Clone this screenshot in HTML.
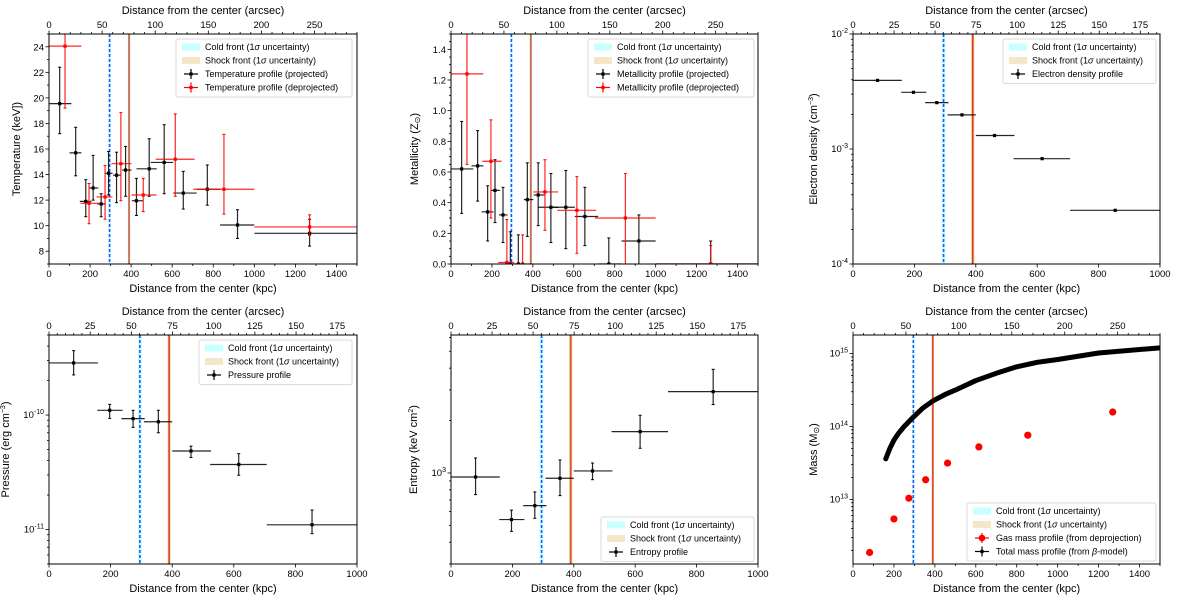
<!DOCTYPE html>
<html><head><meta charset="utf-8">
<style>
body{margin:0;background:#fff;}
svg{display:block;font-family:"Liberation Sans","DejaVu Sans",sans-serif;}
</style></head>
<body>
<svg id="fig" width="1200" height="597" viewBox="0 0 1200 597" xmlns="http://www.w3.org/2000/svg"></svg>
<script>
// ---- Temperature panel data ----
const tProjX=[52,130,179,215,254,290,329,373,426,488,561,654,771,918,1269];
const tProjXlo=[0,100,150,195,235,272,312,356,404,426,495,605,719,833,1000];
const tProjXhi=[109,158,207,240,276,310,349,402,458,525,605,719,833,1000,1500];
const tProjY=[19.55,15.7,11.9,12.95,11.7,14.1,13.95,14.35,11.95,14.45,14.95,12.55,12.85,10.05,9.4];
const tProjYlo=[17.2,13.9,10.7,12.0,10.7,12.4,11.8,12.3,10.8,12.3,12.5,11.3,11.6,9.0,8.4];
const tProjYhi=[22.4,17.7,13.6,15.5,12.5,15.8,15.75,16.2,13.7,16.8,17.9,14.25,14.75,11.25,10.5];
const tDeprX=[78,195,273,350,459,615,852,1269];
const tDeprXlo=[0,153,231,304,402,520,703,1000];
const tDeprXhi=[158,247,309,402,524,709,1000,1500];
const tDeprY=[24.05,11.75,12.25,14.85,12.4,15.2,12.85,9.9];
const tDeprYlo=[19.2,10.15,10.5,11.95,11.1,12.3,10.9,9.25];
const tDeprYhi=[26,13.3,14.7,18.85,13.7,18.75,17.15,10.85];
// ---- Metallicity panel data ----
const zProjX=[52,130,179,215,254,290,329,373,426,488,561,654,771,918,1269];
const zProjXlo=tProjXlo, zProjXhi=tProjXhi;
const zProjY=[0.62,0.64,0.34,0.48,0.32,0.0,0.0,0.42,0.45,0.37,0.37,0.31,0.0,0.15,0.0];
const zProjYlo=[0.33,0.41,0.15,0.27,0.14,0,0,0.18,0.25,0.14,0.10,0.12,0,0,0];
const zProjYhi=[0.93,0.87,0.51,0.68,0.50,0.21,0.19,0.66,0.66,0.59,0.61,0.50,0.17,0.32,0.15];
const zDeprX=[78,195,273,350,459,615,852,1269];
const zDeprXlo=tDeprXlo, zDeprXhi=tDeprXhi;
const zDeprY=[1.24,0.67,0.01,0.0,0.47,0.35,0.30,0.0];
const zDeprYlo=[0.65,0.30,0,0,0.22,0.07,0,0];
const zDeprYhi=[1.6,0.94,0.29,0.19,0.68,0.57,0.59,0.12];
// ---- Deprojected profiles (7 shells) ----
const shellX=[80,197,273,355,461,616,854];
const shellXlo=[0,157,235,308,400,523,707];
const shellXhi=[159,239,311,400,526,707,1000];
const neY=[3.95e-3,3.11e-3,2.53e-3,1.98e-3,1.31e-3,8.24e-4,2.93e-4];
const pY=[2.85e-10,1.1e-10,0.93e-10,0.874e-10,4.85e-11,3.7e-11,1.1e-11];
const pYlo=[2.24e-10,0.935e-10,0.78e-10,0.70e-10,4.26e-11,2.98e-11,0.92e-11];
const pYhi=[3.65e-10,1.24e-10,1.1e-10,1.1e-10,5.35e-11,4.6e-11,1.48e-11];
const kY=[948,540,649,932,1027,1728,2932];
const kYlo=[751,462,549,741,915,1386,2471];
const kYhi=[1219,612,778,1188,1141,2145,3938];
// ---- Mass panel ----
const gasX=[81,200,273,355,462,615,854,1269];
const gasM=[1.87e12,5.4e12,1.04e13,1.86e13,3.15e13,5.25e13,7.6e13,1.58e14];
const totX=[160,180,200,220,250,295,340,390,450,500,600,700,800,900,1000,1200,1500];
const totM=[3.6e13,5.0e13,6.5e13,7.9e13,1.0e14,1.35e14,1.78e14,2.24e14,2.75e14,3.16e14,4.27e14,5.37e14,6.6e14,7.6e14,8.3e14,1.02e15,1.2e15];
// fronts
const coldFront=[295,289,301];
const shockFront=[390,384,396];
</script>
<script>
const NS='http://www.w3.org/2000/svg';
const svg=document.getElementById('fig');
function mk(tag,attrs,parent){const e=document.createElementNS(NS,tag);for(const k in attrs)e.setAttribute(k,attrs[k]);(parent||svg).appendChild(e);return e;}
function txt(x,y,s,size,anchor,parent,rot){const t=mk('text',{x:x,y:y,'font-size':size,'text-anchor':anchor||'middle',fill:'#000'},parent);if(rot)t.setAttribute('transform','rotate(-90 '+x+' '+y+')');t.innerHTML=s;return t;}
let pid=0;
function panel(c){
  pid++;
  const g=mk('g',{});
  
  
  const L=c.L,R=c.R,T=c.T,B=c.B;
  const X=v=>L+v/c.xmax*(R-L);
  const Y=c.ylog?(v=>B-(Math.log10(v)-Math.log10(c.ymin))/(Math.log10(c.ymax)-Math.log10(c.ymin))*(B-T)):(v=>B-(v-c.ymin)/(c.ymax-c.ymin)*(B-T));
  const cp=mk('clipPath',{id:'cp'+pid},g);mk('rect',{x:L,y:T,width:R-L,height:B-T},cp);
  const dg=mk('g',{'clip-path':'url(#cp'+pid+')'},g);
  // fronts
  const cb=mk('rect',{x:X(coldFront[1]),y:T,width:X(coldFront[2])-X(coldFront[1]),height:B-T,fill:'#c8ffff'},dg);
  
  const sb=mk('rect',{x:X(shockFront[1]),y:T,width:X(shockFront[2])-X(shockFront[1]),height:B-T,fill:'#f5e6c8'},dg);
  
  const cl=mk('line',{x1:X(coldFront[0]),x2:X(coldFront[0]),y1:T,y2:B,stroke:'#2255ff','stroke-width':1.6,'stroke-dasharray':'3,2'},dg);
  
  const sl=mk('line',{x1:X(shockFront[0]),x2:X(shockFront[0]),y1:T,y2:B,stroke:c.shockColor||'#d9542c','stroke-width':1.8},dg);
  
  // series
  (c.series||[]).forEach(s=>{
    for(let i=0;i<s.x.length;i++){
      const eg=mk('g',{},dg);
      
      
      const px=X(s.x[i]),py=Y(s.y[i]);
      if(s.xlo){mk('line',{x1:X(s.xlo[i]),x2:X(s.xhi[i]),y1:py,y2:py,stroke:s.col,'stroke-width':1.2,'stroke-opacity':0.85},eg);}
      if(s.ylo){const y1=Y(s.ylo[i]),y2=Y(s.yhi[i]);mk('line',{x1:px,x2:px,y1:y1,y2:y2,stroke:s.col,'stroke-width':1.2,'stroke-opacity':0.85},eg);
        mk('line',{x1:px-1.5,x2:px+1.5,y1:y1,y2:y1,stroke:s.col,'stroke-width':1},eg);mk('line',{x1:px-1.5,x2:px+1.5,y1:y2,y2:y2,stroke:s.col,'stroke-width':1},eg);}
      if(s.circle)mk('circle',{cx:px,cy:py,r:3.6,fill:s.col},eg);
      else mk('rect',{x:px-1.6,y:py-1.6,width:3.2,height:3.2,fill:s.col},eg);
    }
  });
  if(c.curve){const pts=c.curve.x.map((v,i)=>X(v)+','+Y(c.curve.y[i])).join(' ');
    const pl=mk('polyline',{points:pts,fill:'none',stroke:'#000','stroke-width':5,'stroke-linecap':'round','stroke-linejoin':'round'},dg);
    }
  // frame
  mk('rect',{x:L,y:T,width:R-L,height:B-T,fill:'none',stroke:'#000','stroke-width':1},g);
  // bottom x ticks
  for(let v=0;v<=c.xmax+1e-6;v+=c.xminor){const maj=Math.abs(v/c.xmajor-Math.round(v/c.xmajor))<1e-6;const x=X(v);
    mk('line',{x1:x,x2:x,y1:B,y2:B+(maj?3.5:2),stroke:'#000','stroke-width':0.8},g);
    if(maj)txt(x,B+13,String(v),9.5,'middle',g);}
  // top arcsec ticks
  for(let a=0;a<=c.amax+1e-6;a+=c.aminor){const maj=Math.abs(a/c.amajor-Math.round(a/c.amajor))<1e-6;const x=L+a/c.amax*(R-L);
    mk('line',{x1:x,x2:x,y1:T,y2:T-(maj?3.5:2),stroke:'#000','stroke-width':0.8},g);
    if(maj)txt(x,T-6,String(a),9.5,'middle',g);}
  // y ticks
  if(c.ylog){
    const e0=Math.floor(Math.log10(c.ymin)),e1=Math.ceil(Math.log10(c.ymax));
    for(let e=e0;e<=e1;e++)for(let m=1;m<10;m++){const v=m*Math.pow(10,e);if(v<c.ymin*0.999||v>c.ymax*1.001)continue;const y=Y(v);
      mk('line',{x1:L,x2:L-(m==1?3.5:2),y1:y,y2:y,stroke:'#000','stroke-width':0.8},g);
      if(m==1)txt(L-5,y+3,'10<tspan dy="-4" font-size="7">'+e+'</tspan>',9.5,'end',g);}
  } else {
    for(let v=c.ymin;v<=c.ymax+1e-6;v+=c.yminor){const maj=Math.abs(v/c.ymajor-Math.round(v/c.ymajor))<1e-6;const y=Y(v);
      mk('line',{x1:L,x2:L-(maj?3.5:2),y1:y,y2:y,stroke:'#000','stroke-width':0.8},g);
      if(maj&&v>=c.ylab0-1e-6)txt(L-5,y+3.5,v.toFixed(c.ydec),9.5,'end',g);}
  }
  // titles
  const bt=txt((L+R)/2,B+28,'Distance from the center (kpc)',11,'middle',g);
  
  const tt=txt((L+R)/2,T-20,'Distance from the center (arcsec)',11,'middle',g);
  
  const yt=txt(c.ylx,(T+B)/2,c.ylabel,11,'middle',g,true);
  
  // legend
  const lg=mk('g',{},g);
  
  const lx=c.leg[0],ly=c.leg[1],lw=c.leg[2],n=c.legItems.length,lh=n*13.5+4;
  mk('rect',{x:lx,y:ly,width:lw,height:lh,rx:2,fill:'#fff','fill-opacity':0.9,stroke:'#d0d0d0','stroke-width':0.8},lg);
  c.legItems.forEach((it,i)=>{const cy=ly+8+i*13.5;
    const eg=mk('g',{},lg);
    
    if(it[0]=='patch')mk('rect',{x:lx+6,y:cy-3.5,width:18,height:7,fill:it[1]},eg);
    else{mk('line',{x1:lx+8,x2:lx+22,y1:cy,y2:cy,stroke:it[1],'stroke-width':1.2},eg);mk('line',{x1:lx+15,x2:lx+15,y1:cy-5,y2:cy+5,stroke:it[1],'stroke-width':1.2},eg);
      if(it[0]=='circ')mk('circle',{cx:lx+15,cy:cy,r:3.3,fill:it[1]},eg);else mk('rect',{x:lx+13.4,y:cy-1.6,width:3.2,height:3.2,fill:it[1]},eg);}
    txt(lx+29,cy+3.2,it[2],9,'start',eg);});
}
const cold=['patch','#c8ffff','Cold front (1<tspan font-style="italic">σ</tspan> uncertainty)'];
const shock=['patch','#f5e6c8','Shock front (1<tspan font-style="italic">σ</tspan> uncertainty)'];
const top1={T:34,B:264}, bot={T:335,B:564};
panel({name:'temperature-panel',L:49,R:357,T:34,B:264,xmax:1500,xmajor:200,xminor:100,amax:290,amajor:50,aminor:10,
  ylog:false,ymin:7,ymax:25,ymajor:2,yminor:1,ylab0:8,ydec:0,ylx:20,ylabel:'Temperature (keV])',shockColor:'#c0705a',
  series:[{name:'temperature-projected',col:'#000',x:tProjX,xlo:tProjXlo,xhi:tProjXhi,y:tProjY,ylo:tProjYlo,yhi:tProjYhi},
          {name:'temperature-deprojected',col:'#ff0000',x:tDeprX,xlo:tDeprXlo,xhi:tDeprXhi,y:tDeprY,ylo:tDeprYlo,yhi:tDeprYhi}],
  leg:[176,39,176],legItems:[cold,shock,['sq','#000','Temperature profile (projected)'],['sq','#ff0000','Temperature profile (deprojected)']]});
panel({name:'metallicity-panel',L:451,R:758,T:34,B:264,xmax:1500,xmajor:200,xminor:100,amax:290,amajor:50,aminor:10,
  ylog:false,ymin:0,ymax:1.5,ymajor:0.2,yminor:0.05,ylab0:0,ydec:1,ylx:418,ylabel:'Metallicity (Z<tspan dy="2" font-size="8">⊙</tspan><tspan dy="-2">)</tspan>',shockColor:'#c0705a',
  series:[{name:'metallicity-projected',col:'#000',x:zProjX,xlo:zProjXlo,xhi:zProjXhi,y:zProjY,ylo:zProjYlo,yhi:zProjYhi},
          {name:'metallicity-deprojected',col:'#ff0000',x:zDeprX,xlo:zDeprXlo,xhi:zDeprXhi,y:zDeprY,ylo:zDeprYlo,yhi:zDeprYhi}],
  leg:[588,39,166],legItems:[cold,shock,['sq','#000','Metallicity profile (projected)'],['sq','#ff0000','Metallicity profile (deprojected)']]});
panel({name:'electron-density-panel',L:853,R:1160,T:34,B:264,xmax:1000,xmajor:200,xminor:200,amax:187,amajor:25,aminor:5,
  ylog:true,ymin:1e-4,ymax:1e-2,ylx:817,ylabel:'Electron density (cm<tspan dy="-4" font-size="7">−3</tspan><tspan dy="4">)</tspan>',shockColor:'#e0401e',
  series:[{name:'electron-density',col:'#000',x:shellX,xlo:shellXlo,xhi:shellXhi,y:neY}],
  leg:[1003,39,153],legItems:[cold,shock,['sq','#000','Electron density profile']]});
panel({name:'pressure-panel',L:49,R:357,T:335,B:564,xmax:1000,xmajor:200,xminor:200,amax:187,amajor:25,aminor:5,
  ylog:true,ymin:5e-12,ymax:5e-10,ylx:9,ylabel:'Pressure (erg cm<tspan dy="-4" font-size="7">−3</tspan><tspan dy="4">)</tspan>',
  series:[{name:'pressure',col:'#000',x:shellX,xlo:shellXlo,xhi:shellXhi,y:pY,ylo:pYlo,yhi:pYhi}],
  leg:[199,340,153],legItems:[cold,shock,['sq','#000','Pressure profile']]});
panel({name:'entropy-panel',L:451,R:758,T:335,B:564,xmax:1000,xmajor:200,xminor:200,amax:187,amajor:25,aminor:5,
  ylog:true,ymin:300,ymax:6200,ylx:417,ylabel:'Entropy (keV cm<tspan dy="-4" font-size="7">2</tspan><tspan dy="4">)</tspan>',
  series:[{name:'entropy',col:'#000',x:shellX,xlo:shellXlo,xhi:shellXhi,y:kY,ylo:kYlo,yhi:kYhi}],
  leg:[601,517,153],legItems:[cold,shock,['sq','#000','Entropy profile']]});
panel({name:'mass-panel',L:853,R:1160,T:335,B:564,xmax:1500,xmajor:200,xminor:100,amax:290,amajor:50,aminor:10,
  ylog:true,ymin:1.3e12,ymax:1.8e15,ylx:817,ylabel:'Mass (M<tspan dy="2" font-size="8">⊙</tspan><tspan dy="-2">)</tspan>',
  series:[{name:'gas-mass',col:'#ff0000',x:gasX,y:gasM,circle:true}],
  curve:{x:totX,y:totM},
  leg:[967,503,189],legItems:[cold,shock,['circ','#ff0000','Gas mass profile (from deprojection)'],['sq','#000','Total mass profile (from <tspan font-style="italic">β</tspan>-model)']]});
</script>
</body></html>
